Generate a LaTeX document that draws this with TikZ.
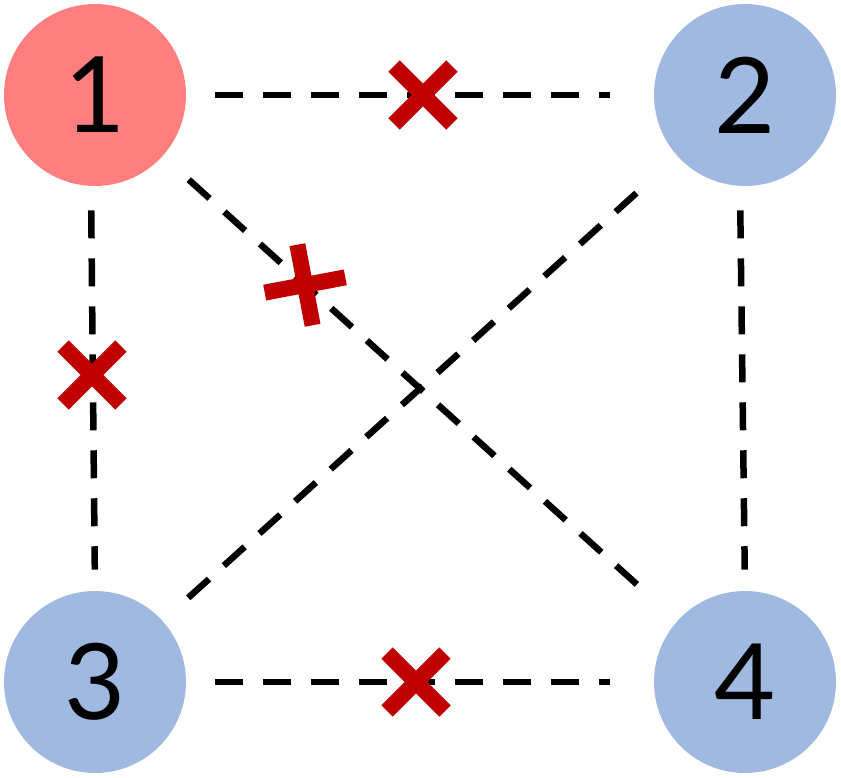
\documentclass[tikz,border=0pt]{standalone}
\usepackage{fontspec}
\setmainfont{Lato}
\usetikzlibrary{shapes.misc}
\definecolor{nodered}{RGB}{255,127,127}
\definecolor{nodeblue}{RGB}{160,185,225}
\definecolor{crossred}{RGB}{192,0,0}
\tikzset{
  vertex/.style={circle,minimum size=3.64cm,inner sep=0pt,font=\fontsize{60}{60}\selectfont},
  link/.style={line width=0.13cm,dash pattern=on 0.56cm off 0.4cm},
  cut/.style={cross out,draw=crossred,line width=0.32cm,minimum size=1.16cm,inner sep=0pt,outer sep=0pt}
}
\begin{document}
\begin{tikzpicture}[x=0.02cm,y=-0.02cm]
			\useasboundingbox (0,0) rectangle (841,777);
			\node[vertex,fill=nodered] (n1) at (95,95) {1};
			\node[vertex,fill=nodeblue] (n2) at (745,95) {2};
			\node[vertex,fill=nodeblue] (n3) at (95,682) {3};
			\node[vertex,fill=nodeblue] (n4) at (745,682) {4};
			\draw[link,shorten <=0.58cm,shorten >=0.88cm] (n1)--(n2);
			\draw[link,shorten <=0.58cm,shorten >=0.88cm] (n3)--(n4);
			\draw[link,shorten <=0.48cm,shorten >=0.42cm] (n1.south)++(-4,0) coordinate (t13)--(n3.north);
			\draw[link,shorten <=0.48cm,shorten >=0.42cm] (n2.south)++(-5,0) coordinate (t24)--(n4.north);
			\draw[link,shorten <=0.7cm,shorten >=1.0cm] (n1)--(n4);
			\draw[link,shorten <=1.1cm,shorten >=0.58cm] (n2)--(n3);
			\node[cut] (c12) at (423,95) {};
			\node[cut] (c13) at (92,375) {};
			\node[cut] (c34) at (416,682) {};
			\node[cut,rotate=55.7] (c14) at (305,285) {};
			\end{tikzpicture}
\end{document}
